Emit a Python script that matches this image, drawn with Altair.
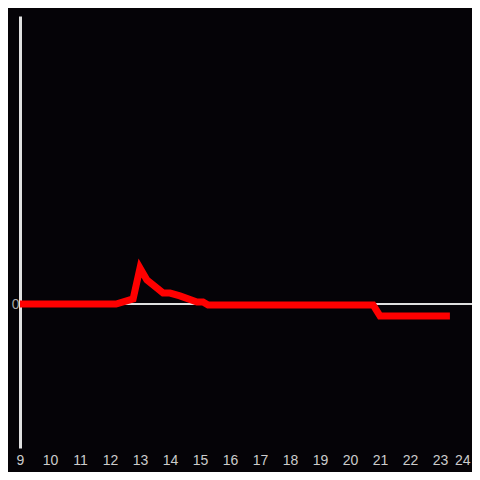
import altair as alt
import pandas as pd

hours = [9.0, 12.2, 12.77, 13.0, 13.23, 13.77, 14.0, 14.33, 14.9, 15.1, 15.27, 20.77, 21.0, 23.33]
values = [0.0, 0.0, 0.035, 0.25, 0.167, 0.076, 0.076, 0.056, 0.014, 0.014, -0.007, -0.007, -0.083, -0.083]
tick_hours = list(range(9, 25))

df = pd.DataFrame({"hour": hours, "value": values})

xscale = alt.Scale(domain=[9, 24.0667], nice=False, zero=False)
yscale = alt.Scale(domain=[-1, 2], nice=False)

line = alt.Chart(df).mark_line(color="#ff0000", strokeWidth=7, strokeJoin="miter").encode(
    x=alt.X("hour:Q", scale=xscale, axis=alt.Axis(values=tick_hours, title=None, domain=False, ticks=False,
                                                  grid=False, labelColor="#cccccc", labelFontSize=14,
                                                  labelPadding=5, labelFont="Liberation Sans", format="d",
                                                  labelFlush=False, labelBound=False,
                                                  labelAlign=alt.expr("datum.value == 24 ? 'right' : 'center'"))),
    y=alt.Y("value:Q", scale=yscale, axis=alt.Axis(values=[0], title=None, domain=True, domainColor="#e0e0e0",
                                                   domainWidth=3, ticks=False, grid=False, labelColor="#aaaaaa",
                                                   labelFontSize=14, labelPadding=1, labelFont="Liberation Sans",
                                                   format="d")),
)

zero = alt.Chart(pd.DataFrame({"z": [0]})).mark_rule(color="#e0e0e0", strokeWidth=2).encode(
    y=alt.Y("z:Q", scale=yscale)
)

chart = alt.layer(zero, line).properties(
    width=452, height=432, background="#050307",
    padding={"left": 12, "top": 8, "right": 0, "bottom": 24},
    autosize=alt.AutoSizeParams(type="none"),
).configure_view(stroke=None)

chart.save("out.html", embed_options={"renderer": "svg", "actions": False})
